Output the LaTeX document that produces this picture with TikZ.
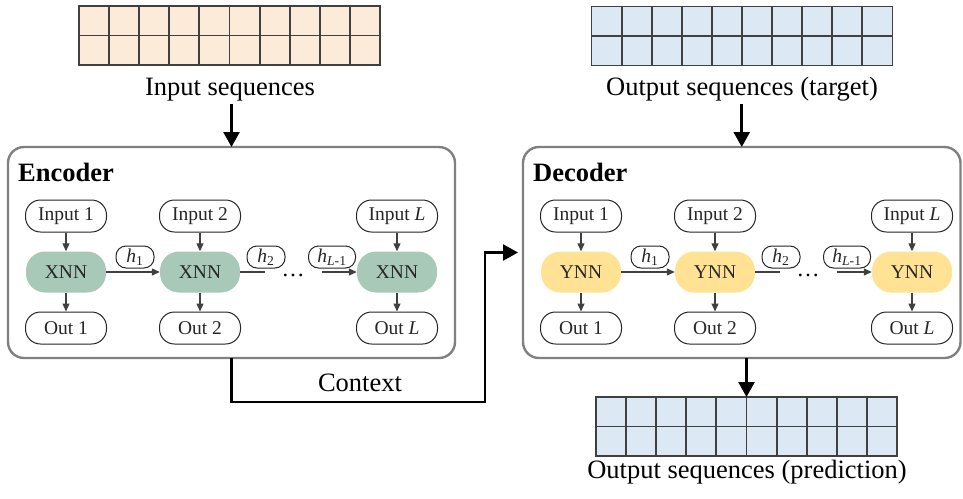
\documentclass[tikz,border=0pt]{standalone}
\usepackage{fontspec}
\setmainfont{Liberation Serif}
\usetikzlibrary{arrows.meta,calc}

\definecolor{peachcell}{HTML}{FDEBDA}
\definecolor{bluecell}{HTML}{DCE8F4}
\definecolor{xnngreen}{HTML}{A8C8B8}
\definecolor{ynnyellow}{HTML}{FFE294}
\definecolor{panelgray}{HTML}{808080}
\definecolor{gridgray}{HTML}{404040}
\definecolor{flowgray}{HTML}{404040}

\tikzset{
  bigtext/.style={font=\fontsize{26.5}{30}\selectfont, text=black},
  panel/.style={draw=panelgray, line width=2.4pt, rounded corners=16pt,
    inner sep=0pt, outer sep=0pt},
  seqbox/.style={draw=gridgray, line width=1.9pt, minimum width=301pt,
    minimum height=59pt, inner sep=0pt, outer sep=0pt},
  gridline/.style={draw=gridgray, line width=1.9pt},
  io/.style={draw=black!85, line width=1pt, fill=white, rounded corners=15pt,
    minimum width=81pt, minimum height=32pt, inner sep=0pt,
    font=\fontsize{19.5}{22}\selectfont, text=black!85},
  cellnn/.style={fill=#1, draw=none, rounded corners=19pt,
    minimum width=80pt, minimum height=41pt, inner sep=0pt,
    font=\fontsize{19.5}{22}\selectfont, text=black!85},
  hlab/.style={draw=black!85, line width=1pt, fill=white, rounded corners=10pt,
    minimum height=22pt, minimum width=38pt, inner sep=2pt,
    font=\fontsize{19.5}{22}\selectfont, text=black!85},
  flow/.style={-{Triangle[length=8pt,width=7pt]}, draw=flowgray, line width=1.2pt},
  plainflow/.style={draw=flowgray, line width=1.2pt},
  mainarrow/.style={-{Triangle[length=15pt,width=16pt]}, draw=black,
    line width=2.6pt, line join=miter},
}

% grid of 10 x 2 cells inside a named box node
\newcommand\seqcells[1]{%
  \foreach \k in {1,...,9}
    \draw[gridline] ($(#1.north west)!\k/10!(#1.north east)$) --
                    ($(#1.south west)!\k/10!(#1.south east)$);
  \draw[gridline] (#1.west) -- (#1.east);
}

% one recurrent chain: prefix, x offset, cell text, cell colour
\newcommand\rnnchain[4]{%
  \begin{scope}[xshift=#2]
    \node[io] (#1in1) at (66,216) {Input 1};
    \node[io] (#1in2) at (200,216) {Input 2};
    \node[io] (#1inL) at (397,216) {Input \textit{L}};
    \node[cellnn=#4] (#1c1) at (66,272) {#3};
    \node[cellnn=#4] (#1c2) at (200,272) {#3};
    \node[cellnn=#4] (#1cL) at (397,272) {#3};
    \node[io] (#1o1) at (66,328) {Out 1};
    \node[io] (#1o2) at (200,328) {Out 2};
    \node[io] (#1oL) at (397,328) {Out \textit{L}};
    \node[hlab] (#1h1) at (135,257) {\textit{h}\textsubscript{1}};
    \node[hlab] (#1h2) at (266,257) {\textit{h}\textsubscript{2}};
    \node[hlab, minimum width=47pt] (#1hL) at (332,257) {\textit{h}\textsubscript{\textit{L}-1}};
    \node[anchor=base, inner sep=0pt, font=\fontsize{23}{24}\selectfont] (#1dots) at (293,276) {\ldots};
    \coordinate (#1h2end) at (265,272);
    \coordinate (#1hLstart) at (322,272);
    \foreach \s in {1,2,L} {
      \draw[flow] (#1in\s) -- (#1c\s);
      \draw[flow] (#1c\s) -- (#1o\s);
    }
    \draw[flow] (#1c1) -- (#1c2);
    \draw[plainflow] (#1c2) -- (#1h2end);
    \draw[flow] (#1hLstart) -- (#1cL);
  \end{scope}
}

\begin{document}
\begin{tikzpicture}[x=1pt, y=-1pt]
  \useasboundingbox (0,0) rectangle (963,498);

  % sequence grids
  \node[seqbox, fill=peachcell] (ingrid) at (229.5,35.5) {};
  \seqcells{ingrid}
  \node[seqbox, fill=bluecell] (tgtgrid) at (742,36) {};
  \seqcells{tgtgrid}
  \node[seqbox, fill=bluecell] (predgrid) at (746.5,426.5) {};
  \seqcells{predgrid}

  \node[bigtext, anchor=base] (inlabel) at (230,95) {Input sequences};
  \node[bigtext, anchor=base] (tgtlabel) at (742,95) {Output sequences (target)};
  \node[bigtext, anchor=base] (predlabel) at (747,478) {Output sequences (prediction)};

  % encoder and decoder panels
  \node[panel, minimum width=447pt, minimum height=211pt] (enc) at (231.5,252.5) {};
  \node[panel, minimum width=437.5pt, minimum height=211pt] (dec) at (741.75,252.5) {};
  \node[anchor=base west, inner sep=0pt, font=\fontsize{26.5}{30}\selectfont\bfseries] (enctitle) at (18,181) {Encoder};
  \node[anchor=base west, inner sep=0pt, font=\fontsize{26.5}{30}\selectfont\bfseries] (dectitle) at (533,181) {Decoder};

  \rnnchain{e}{0pt}{XNN}{xnngreen}
  \rnnchain{d}{515pt}{YNN}{ynnyellow}

  % main data flow
  \draw[mainarrow] (inlabel.south -| enc.north) -- (enc.north);
  \draw[mainarrow] (tgtlabel.south -| dec.north) -- (dec.north);
  \coordinate (ctxlow) at (485,402);
  \draw[mainarrow, shorten >=5pt] (enc.south) |- (ctxlow) |- (dec.west);
  \node[bigtext, anchor=base] (ctx) at (360,391) {Context};
  \draw[mainarrow] (predgrid.north |- dec.south) -- (predgrid.north);
\end{tikzpicture}
\end{document}
